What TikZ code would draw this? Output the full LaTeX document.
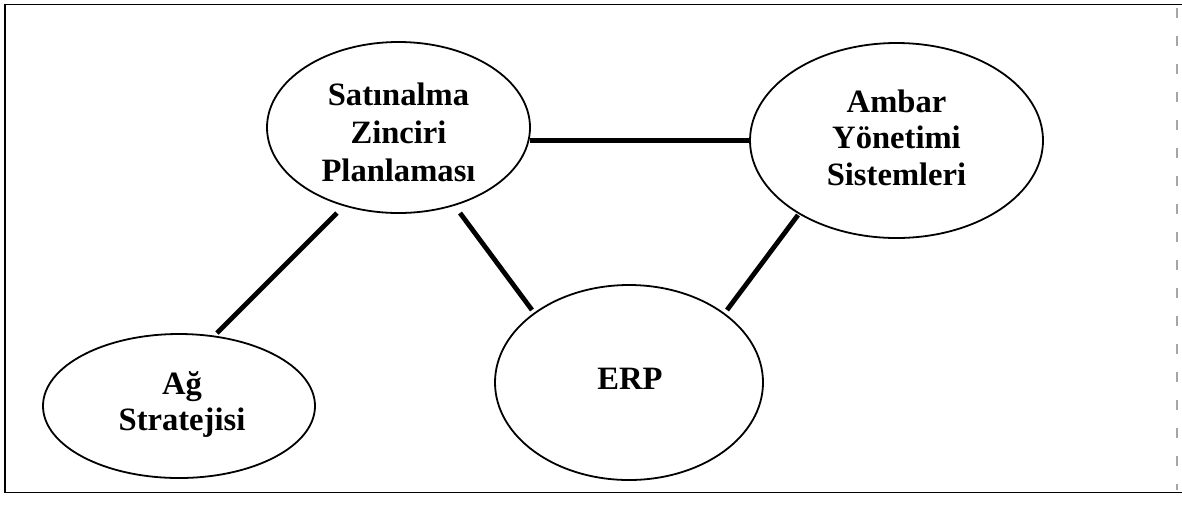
\documentclass[tikz,border=0pt]{standalone}
\usepackage{fontspec}
\setmainfont{Liberation Serif}
\usetikzlibrary{shapes.geometric}
\begin{document}
\begin{tikzpicture}[x=0.5pt,y=-0.5pt,
  topic/.style={ellipse, draw, line width=0.9pt, inner sep=0pt, outer sep=0pt},
  caption/.style={inner sep=0pt, align=center,
    font=\fontsize{16.3pt}{#1}\selectfont\bfseries},
  caption/.default={18.5pt},
  link/.style={line width=2.4pt},
  frame/.style={line width=0.65pt}]
\useasboundingbox (0,0) rectangle (1182,505);
% outer frame (the right edge is only faintly printed)
\draw[frame] (1182,4.5) -- (5,4.5) -- (5,492.5) -- (1182,492.5);
\draw[frame, gray!70, dash pattern=on 5pt off 9pt] (1177,8) -- (1177,490);

% topic ellipses
\node[topic, minimum width=131.5pt, minimum height=85.5pt] (S) at (398.5,127.5) {};
\node[topic, minimum width=146.5pt, minimum height=97.5pt] (A) at (896.5,140.5) {};
\node[topic, minimum width=136pt, minimum height=72pt] (G) at (179,406) {};
\node[topic, minimum width=134pt, minimum height=97.5pt] (E) at (629,382.5) {};

% topic names
\node[caption=19pt] (S-t) at ([shift={(0,4.5)}]S.center) {Satınalma\\Zinciri\\Planlaması};
\node[caption=18.25pt] (A-t) at ([shift={(0,-3)}]A.center) {Ambar\\Yönetimi\\Sistemleri};
\node[caption=18pt] (G-t) at ([shift={(3,-2)}]G.center) {Ağ\\Stratejisi};
\node[caption] (E-t) at ([shift={(1,-3.5)}]E.center) {ERP};

% links between the topics
\draw[link] (S.east |- A.west) -- (A.west);
\draw[link] ([shift={(-61.5,85.5)}]S.center) -- ([shift={(38,-73)}]G.center);
\draw[link] ([shift={(61.5,85.5)}]S.center) -- ([shift={(-97,-72.5)}]E.center);
\draw[link] ([shift={(-98.5,74.5)}]A.center) -- ([shift={(98,-72.5)}]E.center);
\end{tikzpicture}
\end{document}
